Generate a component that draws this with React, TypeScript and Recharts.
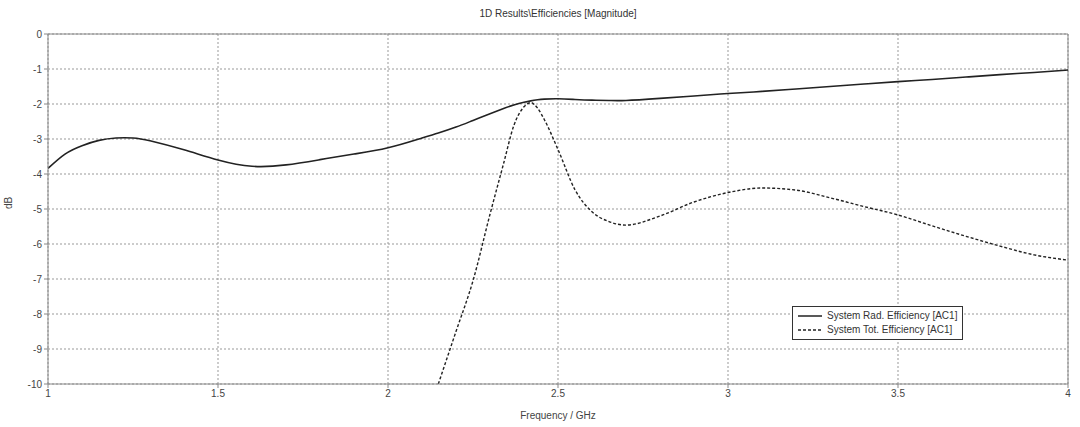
import { CartesianGrid, Line, LineChart, ReferenceLine, XAxis, YAxis } from "recharts";

// frequency grid (GHz) shared by both traces
const freq = [
  1.0, 1.05, 1.1, 1.15, 1.2, 1.25, 1.3, 1.4, 1.5, 1.6, 1.7, 1.8, 1.9, 2.0, 2.1, 2.148, 2.2, 2.25, 2.3, 2.34,
  2.37, 2.4, 2.42, 2.44, 2.46, 2.5, 2.55, 2.6, 2.65, 2.7, 2.8, 2.9, 3.0, 3.1, 3.2, 3.3, 3.4, 3.5, 3.6, 3.7,
  3.8, 3.9, 4.0,
];

const radEff = [
  -3.84, -3.43, -3.19, -3.04, -2.97, -2.97, -3.05, -3.31, -3.6, -3.78, -3.74, -3.59, -3.43, -3.25, -2.97,
  -2.83, -2.66, -2.47, -2.28, -2.13, -2.03, -1.95, -1.91, -1.88, -1.86, -1.85, -1.87, -1.89, -1.9, -1.9,
  -1.84, -1.77, -1.7, -1.64, -1.57, -1.5, -1.43, -1.36, -1.3, -1.23, -1.16, -1.1, -1.03,
];

const totEff = [
  null, null, null, null, null, null, null, null, null, null, null, null, null, null, null,
  -10, -8.5, -7.05, -5.15, -3.7, -2.62, -2.08, -1.96, -2.12, -2.45, -3.3, -4.45, -5.08, -5.36, -5.46,
  -5.2, -4.8, -4.53, -4.4, -4.46, -4.68, -4.93, -5.17, -5.48, -5.78, -6.06, -6.31, -6.46,
];

const xTicks = [1, 1.5, 2, 2.5, 3, 3.5, 4];
const yTicks = [0, -1, -2, -3, -4, -5, -6, -7, -8, -9, -10];

const seriesNames = ["System Rad. Efficiency [AC1]", "System Tot. Efficiency [AC1]"];

const data = freq.map((f, i) => ({ f, rad: radEff[i], tot: totEff[i] }));

const font = "'Liberation Sans', Arial, sans-serif";
const tickStyle = { fontSize: 10, fill: "#444", fontFamily: font };

function LegendBox() {
  return (
    <div
      style={{
        position: "absolute",
        left: 792,
        top: 306,
        border: "1.5px solid #333",
        background: "#fff",
        padding: "2px 5px 2px 4px",
        fontFamily: font,
        fontSize: 10,
        color: "#333",
        lineHeight: "14px",
      }}
    >
      <div style={{ display: "flex", alignItems: "center" }}>
        <svg width={26} height={6} style={{ marginRight: 4 }}>
          <line x1={1} y1={3} x2={25} y2={3} stroke="#222" strokeWidth={1.5} />
        </svg>
        {seriesNames[0]}
      </div>
      <div style={{ display: "flex", alignItems: "center" }}>
        <svg width={26} height={6} style={{ marginRight: 4 }}>
          <line x1={1} y1={3} x2={25} y2={3} stroke="#222" strokeWidth={1.3} strokeDasharray="3 2" />
        </svg>
        {seriesNames[1]}
      </div>
    </div>
  );
}

export default function App() {
  return (
    <div style={{ position: "absolute", left: 0, top: 0, width: 1080, height: 427, background: "#fff" }}>
      <div
        style={{
          position: "absolute",
          top: 8,
          left: 48,
          width: 1020,
          textAlign: "center",
          fontFamily: font,
          fontSize: 10,
          color: "#333",
        }}
      >
        1D Results\Efficiencies [Magnitude]
      </div>
      <LineChart width={1080} height={427} data={data} margin={{ top: 34, right: 12, left: 0, bottom: 0 }}>
        <CartesianGrid stroke="#999" strokeDasharray="2 2" />
        <XAxis
          dataKey="f"
          type="number"
          domain={[1, 4]}
          ticks={xTicks}
          allowDataOverflow
          height={43}
          stroke="#888"
          tickSize={4}
          tick={tickStyle}
          label={{ value: "Frequency / GHz", position: "insideBottom", offset: 8, style: tickStyle }}
        />
        <YAxis
          type="number"
          domain={[-10, 0]}
          ticks={yTicks}
          allowDataOverflow
          width={48}
          stroke="#888"
          tickSize={4}
          tick={tickStyle}
          label={{ value: "dB", angle: -90, position: "insideLeft", offset: 8, style: tickStyle }}
        />
        <ReferenceLine y={0} stroke="#888" strokeWidth={1} />
        <ReferenceLine x={4} stroke="#888" strokeWidth={1} />
        <Line
          type="natural"
          dataKey="rad"
          stroke="#222"
          strokeWidth={1.6}
          dot={false}
          isAnimationActive={false}
        />
        <Line
          type="monotone"
          dataKey="tot"
          stroke="#222"
          strokeWidth={1.4}
          strokeDasharray="3 2"
          dot={false}
          connectNulls={false}
          isAnimationActive={false}
        />
      </LineChart>
      <LegendBox />
    </div>
  );
}
